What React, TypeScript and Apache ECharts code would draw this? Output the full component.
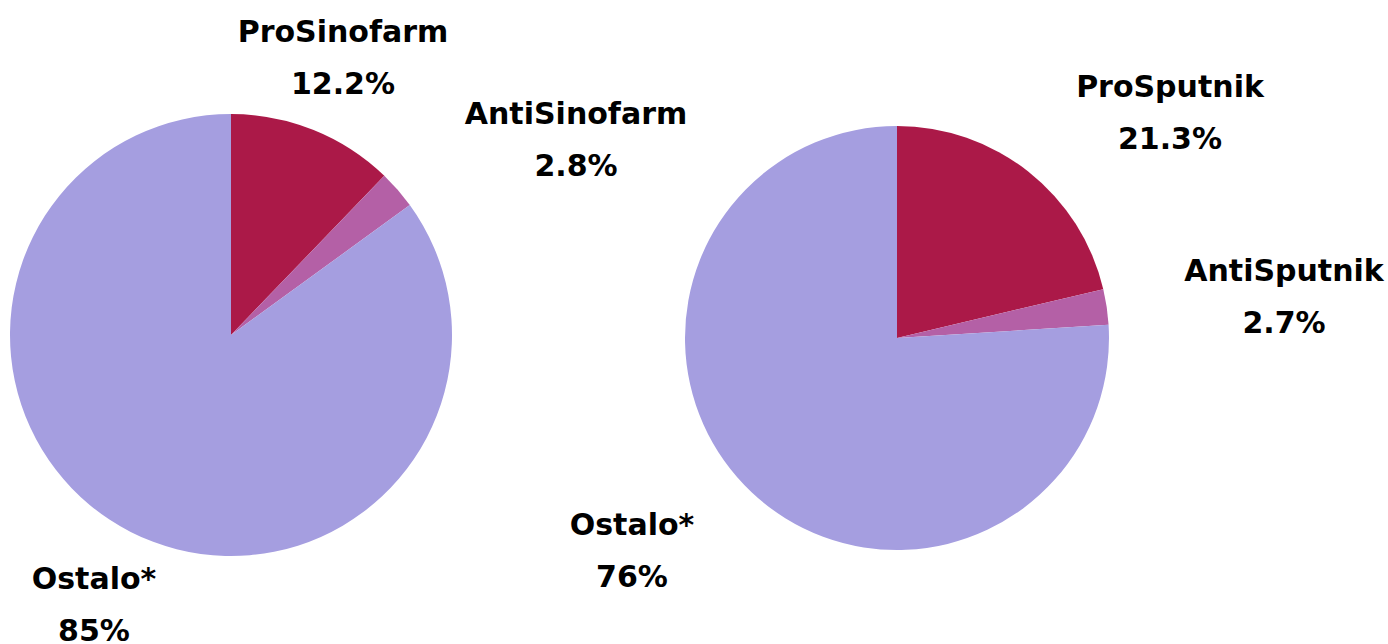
import React, { useEffect, useRef } from "react";
import * as echarts from "echarts";

const categoriesSinofarm = ["ProSinofarm", "AntiSinofarm", "Ostalo*"];
const valuesSinofarm = [12.2, 2.8, 85];
const categoriesSputnik = ["ProSputnik", "AntiSputnik", "Ostalo*"];
const valuesSputnik = [21.3, 2.7, 76];
const sliceColors = ["#AB1948", "#B460A6", "#A59EE0"];

// label anchor positions (layout only)
const labelPosSinofarm = [
  [343, 57],
  [576, 139],
  [94, 604],
];
const labelPosSputnik = [
  [1170, 112],
  [1284, 296],
  [632, 550],
];

export default function App() {
  const ref = useRef<HTMLDivElement>(null);
  useEffect(() => {
    if (!ref.current) return;
    const chart = echarts.init(ref.current, null, { renderer: "svg" });
    const makeSeries = (
      names: string[],
      values: number[],
      center: [number, number],
      radius: number,
      pos: number[][]
    ) => ({
      type: "pie",
      center,
      radius,
      startAngle: 90,
      clockwise: true,
      silent: true,
      data: names.map((n, i) => ({
        name: n,
        value: values[i],
        itemStyle: { color: sliceColors[i] },
      })),
      label: {
        show: true,
        formatter: "{b}\n{c}%",
        color: "#000",
        fontFamily: "DejaVu Sans",
        fontWeight: "bold",
        fontSize: 30,
        lineHeight: 52,
        align: "center",
        overflow: "none",
        width: 400,
      },
      labelLine: { show: false },
      labelLayout: (p: any) => ({
        x: pos[p.dataIndex][0],
        y: pos[p.dataIndex][1],
        align: "center",
        verticalAlign: "middle",
        width: 400,
      }),
    });
    chart.setOption({
      animation: false,
      backgroundColor: "#ffffff",
      series: [
        makeSeries(categoriesSinofarm, valuesSinofarm, [231, 335], 221, labelPosSinofarm),
        makeSeries(categoriesSputnik, valuesSputnik, [897, 338], 212, labelPosSputnik),
      ],
    });
    return () => chart.dispose();
  }, []);
  return (
    <div
      ref={ref}
      style={{ position: "fixed", left: 0, top: 0, width: 1388, height: 644 }}
    />
  );
}
